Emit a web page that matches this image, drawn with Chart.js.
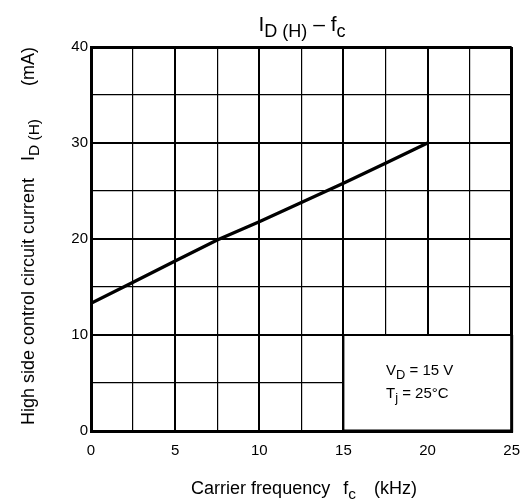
<!DOCTYPE html>
<html>
<head>
<meta charset="utf-8">
<script src="https://cdn.jsdelivr.net/npm/chart.js@4/dist/chart.umd.min.js"></script>
<style>
  html, body { margin: 0; padding: 0; background: #fff; }
  #wrap { width: 531px; height: 502px; }
</style>
</head>
<body>
<div id="wrap"><canvas id="c" width="531" height="502"></canvas></div>
<script>
// ---- data ----
const fcValues = [0, 2.5, 5, 7.5, 10, 12.5, 15, 17.5, 20];           // carrier frequency (kHz)
const idValues = [13.3, 15.5, 17.7, 19.9, 21.8, 23.8, 25.8, 27.9, 30.0]; // I_D(H) (mA)
const xTickLabels = [0, 5, 10, 15, 20, 25];
const yTickLabels = [0, 10, 20, 30, 40];

const FONT = '"Liberation Sans", Arial, Helvetica, sans-serif';
const SUB = 0.86;

function partFont(p, size) {
  return (p.sub ? size * SUB : size) + 'px ' + FONT;
}
function richWidth(ctx, parts, size) {
  let w = 0;
  for (const p of parts) {
    if (p.gap) { w += p.gap; continue; }
    ctx.font = partFont(p, size);
    w += ctx.measureText(p.t).width;
  }
  return w;
}
function drawRich(ctx, parts, x, y, size, align) {
  const total = richWidth(ctx, parts, size);
  let cx = align === 'center' ? x - total / 2 : (align === 'right' ? x - total : x);
  ctx.textAlign = 'left';
  ctx.textBaseline = 'alphabetic';
  ctx.fillStyle = '#000';
  for (const p of parts) {
    if (p.gap) { cx += p.gap; continue; }
    ctx.font = partFont(p, size);
    ctx.fillText(p.t, cx, p.sub ? y + size * 0.28 : y);
    cx += ctx.measureText(p.t).width;
  }
}

const titleParts = [{t: 'I'}, {t: 'D (H)', sub: true}, {t: ' – f'}, {t: 'c', sub: true}];
const xTitleParts = [{t: 'Carrier frequency'}, {gap: 13}, {t: 'f'}, {t: 'c', sub: true}, {gap: 18}, {t: '(kHz)'}];
const yTitleParts = [{t: 'High side control circuit current'}, {gap: 17}, {t: 'I'}, {t: 'D (H)', sub: true}, {gap: 33}, {t: '(mA)'}];
const noteLine1 = [{t: 'V'}, {t: 'D', sub: true}, {t: ' = 15 V'}];
const noteLine2 = [{t: 'T'}, {t: 'j', sub: true}, {t: ' = 25°C'}];

const decorPlugin = {
  id: 'decor',
  beforeDatasetsDraw(chart) {
    const {ctx, scales: {x, y}} = chart;
    const x0 = x.getPixelForValue(15), x1 = x.getPixelForValue(25);
    const y0 = y.getPixelForValue(10), y1 = y.getPixelForValue(0);
    ctx.save();
    ctx.fillStyle = '#fff';
    ctx.fillRect(x0, y0, x1 - x0, y1 - y0);
    ctx.strokeStyle = '#000';
    ctx.lineWidth = 2;
    ctx.beginPath();
    ctx.moveTo(x0, y1); ctx.lineTo(x0, y0); ctx.lineTo(x1, y0);
    ctx.stroke();
    ctx.lineWidth = 3;
    ctx.beginPath();
    ctx.moveTo(x0, y1); ctx.lineTo(x1, y1); ctx.lineTo(x1, y0);
    ctx.stroke();
    ctx.restore();
  },
  afterDraw(chart) {
    const {ctx} = chart;
    ctx.save();
    drawRich(ctx, titleParts, 302, 31, 21, 'center');
    drawRich(ctx, xTitleParts, 304, 494, 18, 'center');
    ctx.translate(34, 236);
    ctx.rotate(-Math.PI / 2);
    drawRich(ctx, yTitleParts, 0, 0, 18, 'center');
    ctx.restore();
    ctx.save();
    drawRich(ctx, noteLine1, 386, 375, 15, 'left');
    drawRich(ctx, noteLine2, 386, 398, 15, 'left');
    ctx.restore();
  }
};

function gridWidth(value, majorStep, maxVal) {
  if (value === maxVal) return 3;
  if (Math.abs(value % majorStep) < 1e-9) return 2;
  return 1.2;
}

new Chart(document.getElementById('c'), {
  type: 'scatter',
  data: {
    datasets: [{
      data: fcValues.map((v, i) => ({x: v, y: idValues[i]})),
      showLine: true,
      borderColor: '#000',
      borderWidth: 3.3,
      pointRadius: 0,
      tension: 0,
      fill: false
    }]
  },
  options: {
    responsive: false,
    animation: false,
    devicePixelRatio: 1,
    layout: { padding: { left: 0, right: 13, top: 47, bottom: 0 } },
    plugins: { legend: { display: false }, tooltip: { enabled: false }, title: { display: false } },
    scales: {
      x: {
        type: 'linear', min: 0, max: 25,
        afterFit(scale) { scale.height = 71; },
        ticks: {
          stepSize: 2.5, autoSkip: false, maxRotation: 0, padding: 11,
          color: '#000', font: { family: FONT, size: 15 },
          callback: v => xTickLabels.includes(v) ? String(v) : ''
        },
        grid: {
          color: '#000', drawTicks: false,
          lineWidth: ctx => gridWidth(ctx.tick ? ctx.tick.value : 0, 5, 25)
        },
        border: { display: true, color: '#000', width: 3 }
      },
      y: {
        type: 'linear', min: 0, max: 40,
        afterFit(scale) { scale.width = 91; },
        ticks: {
          stepSize: 5, autoSkip: false, padding: 3,
          color: '#000', font: { family: FONT, size: 15 },
          callback: v => yTickLabels.includes(v) ? String(v) : ''
        },
        grid: {
          color: '#000', drawTicks: false,
          lineWidth: ctx => gridWidth(ctx.tick ? ctx.tick.value : 0, 10, 40)
        },
        border: { display: true, color: '#000', width: 3 }
      }
    }
  },
  plugins: [decorPlugin]
});
</script>
</body>
</html>
